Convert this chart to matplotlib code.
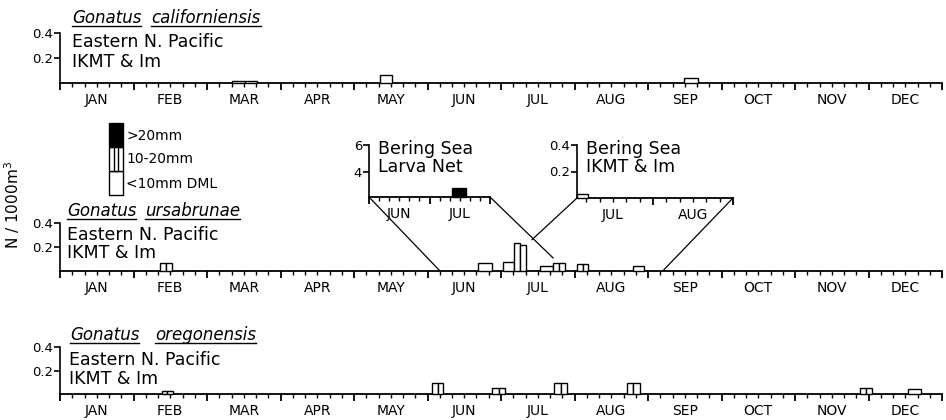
import matplotlib
matplotlib.use('Agg')
import matplotlib.pyplot as plt
from matplotlib.patches import ConnectionPatch
from matplotlib.ticker import MultipleLocator, NullFormatter

W, H = 946, 420

months = ['JAN', 'FEB', 'MAR', 'APR', 'MAY', 'JUN',
          'JUL', 'AUG', 'SEP', 'OCT', 'NOV', 'DEC']

# sampling periods in months from 1 Jan (start, end) and density N/1000 m3
cal_start = [2.34, 2.52, 4.35, 8.49]
cal_end = [2.52, 2.68, 4.52, 8.68]
cal_n = [0.02, 0.02, 0.065, 0.04]

urs_start = [1.36, 1.44, 5.69, 6.03, 6.18, 6.26, 6.53, 6.71, 6.79, 7.03, 7.12, 7.79]
urs_end = [1.44, 1.52, 5.88, 6.18, 6.26, 6.34, 6.71, 6.79, 6.87, 7.12, 7.18, 7.94]
urs_n = [0.067, 0.067, 0.067, 0.075, 0.235, 0.22, 0.04, 0.067, 0.067, 0.06, 0.06, 0.04]

ore_start = [1.39, 1.46, 5.06, 5.14, 5.88, 5.97, 6.72, 6.81, 7.71, 7.80, 10.88, 10.97, 11.54]
ore_end = [1.46, 1.54, 5.14, 5.21, 5.97, 6.05, 6.81, 6.90, 7.80, 7.89, 10.97, 11.05, 11.71]
ore_n = [0.025, 0.025, 0.095, 0.095, 0.055, 0.055, 0.09, 0.09, 0.095, 0.095, 0.055, 0.055, 0.04]

# Bering Sea insets
larva_start = [6.38]
larva_end = [6.61]
larva_n = [0.67]
larva_floor = 2.15

bering_start = [6.05]
bering_end = [6.19]
bering_n = [0.03]

fig = plt.figure(figsize=(W / 100, H / 100), dpi=100)
plt.rcParams['font.family'] = 'DejaVu Sans'


def fx(px):
    return px / W


def fy(py):
    return 1 - py / H


def add_axes(x0, x1, y_base, y_top):
    return fig.add_axes([fx(x0), fy(y_base), (x1 - x0) / W, (y_base - y_top) / H])


def style_axis(ax, lo, hi, ylo, yhi, yticks, ylabels, label_months):
    for s in ['top', 'right']:
        ax.spines[s].set_visible(False)
    ax.spines['left'].set_linewidth(1.2)
    ax.spines['bottom'].set_linewidth(1.3)
    ax.set_facecolor('none')
    ax.set_xlim(lo, hi)
    ax.set_ylim(ylo, yhi)
    ax.xaxis.set_major_locator(MultipleLocator(1))
    ax.xaxis.set_minor_locator(MultipleLocator(1 / 6))
    ax.xaxis.set_major_formatter(NullFormatter())
    ax.tick_params(axis='x', which='major', direction='out', length=5, width=1.3)
    ax.tick_params(axis='x', which='minor', direction='out', length=3, width=1.0)
    ax.set_yticks(yticks)
    ax.set_yticklabels(ylabels)
    ax.tick_params(axis='y', direction='out', length=4, width=1.2, labelsize=9.5, pad=1)
    for m in label_months:
        ax.annotate(months[m], xy=(m + 0.5, 0), xycoords=('data', 'axes fraction'),
                    xytext=(0, -12), textcoords='offset points',
                    ha='center', va='center', fontsize=10)


def draw_bars(ax, start, end, n, color='white', bottom=0):
    widths = [e - s for s, e in zip(start, end)]
    ax.bar(start, n, width=widths, bottom=bottom, align='edge', facecolor=color,
           edgecolor='black', linewidth=1.0, zorder=3, clip_on=False)


def species_title(x, y, genus, species, gap):
    r = fig.canvas.get_renderer()
    inv = fig.transFigure.inverted()
    t1 = fig.text(fx(x), fy(y), genus, style='italic', fontsize=12, va='baseline')
    b1 = t1.get_window_extent(r)
    x2 = inv.transform((b1.x1 + gap, 0))[0]
    t2 = fig.text(x2, fy(y), species, style='italic', fontsize=12, va='baseline')
    b2 = t2.get_window_extent(r)
    for b in (b1, b2):
        yy = fy(y + 3)
        x0 = inv.transform((b.x0, 0))[0]
        x1 = inv.transform((b.x1, 0))[0]
        fig.add_artist(plt.Line2D([x0, x1], [yy, yy], color='black', lw=1.0))


def site_text(x, y1, y2, line1, line2):
    fig.text(fx(x), fy(y1), line1, fontsize=12.5, va='center')
    fig.text(fx(x), fy(y2), line2, fontsize=12.5, va='center')


# main panels
ax_cal = add_axes(60, 942, 83, 33)
style_axis(ax_cal, 0, 12, 0, 0.4, [0.2, 0.4], ['0.2', '0.4'], range(12))
draw_bars(ax_cal, cal_start, cal_end, cal_n)

ax_urs = add_axes(60, 942, 271, 223)
style_axis(ax_urs, 0, 12, 0, 0.4, [0.2, 0.4], ['0.2', '0.4'], range(12))
draw_bars(ax_urs, urs_start, urs_end, urs_n)

ax_ore = add_axes(60, 942, 394, 347)
style_axis(ax_ore, 0, 12, 0, 0.4, [0.2, 0.4], ['0.2', '0.4'], range(12))
draw_bars(ax_ore, ore_start, ore_end, ore_n)

# insets
ax_lar = add_axes(369, 490, 197, 145)
style_axis(ax_lar, 5, 7, larva_floor, 6, [4, 6], ['4', '6'], [5, 6])
draw_bars(ax_lar, larva_start, larva_end, larva_n, color='black', bottom=larva_floor)

ax_ber = add_axes(577, 733, 198, 145)
style_axis(ax_ber, 6.05, 8, 0, 0.4, [0.2, 0.4], ['0.2', '0.4'], [6, 7])
draw_bars(ax_ber, bering_start, bering_end, bering_n)

links = [(ax_lar, (5.0, larva_floor), (5.17, 0)),
         (ax_lar, (7.0, larva_floor), (6.71, 0.108)),
         (ax_ber, (6.05, 0), (6.42, 0.26)),
         (ax_ber, (8.0, 0), (8.20, 0))]
for ax, a, b in links:
    con = ConnectionPatch(xyA=a, coordsA=ax.transData, xyB=b, coordsB=ax_urs.transData,
                          color='black', lw=0.9)
    fig.add_artist(con)

# titles and labels
species_title(72, 23, 'Gonatus', 'californiensis', 10)
site_text(72, 42, 62, 'Eastern N. Pacific', 'IKMT & Im')
species_title(67, 216, 'Gonatus', 'ursabrunae', 9)
site_text(67, 235, 253, 'Eastern N. Pacific', 'IKMT & Im')
species_title(70, 340, 'Gonatus', 'oregonensis', 16)
site_text(69, 360, 379, 'Eastern N. Pacific', 'IKMT & Im')
site_text(378, 149, 167, 'Bering Sea', 'Larva Net')
site_text(586, 149, 167, 'Bering Sea', 'IKMT & Im')

fig.text(fx(12), fy(205), 'N / 1000m$^3$', rotation=90, fontsize=11,
         ha='center', va='center')

# size-class key
ax_key = add_axes(109, 123, 195, 123)
ax_key.set_xlim(0, 1)
ax_key.set_ylim(0, 3)
ax_key.axis('off')
ax_key.bar(0.5, [1, 1, 1], bottom=[0, 1, 2], width=1, color=['white', 'white', 'black'],
           edgecolor='black', linewidth=1.0, clip_on=False)
ax_key.bar(0.5, 1, bottom=1, width=0.3, color='white', edgecolor='black', linewidth=1.0,
           clip_on=False)
for yy, lab in zip([136, 159, 184], ['>20mm', '10-20mm', '<10mm DML']):
    fig.text(fx(126), fy(yy), lab, fontsize=10, va='center')

fig.savefig('out.png', dpi=100)
